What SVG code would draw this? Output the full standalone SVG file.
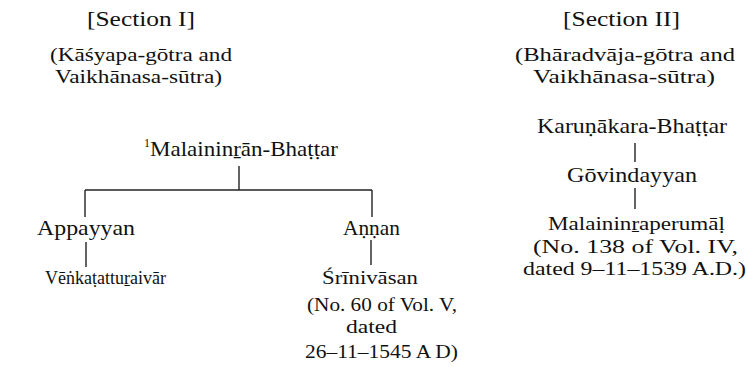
<svg xmlns="http://www.w3.org/2000/svg" width="748" height="367" viewBox="0 0 748 367">
<style>
text{font-family:"Liberation Serif","DejaVu Serif",serif;font-size:21px;fill:#111}
.m{font-size:18px}
.sup{font-size:12px}
.c line{stroke:#222;stroke-width:1.4;fill:none}
</style>
<rect width="748" height="367" fill="#fff"/>
<g id="section1">
<text x="87" y="26" textLength="108" lengthAdjust="spacingAndGlyphs">[Section  I]</text>
<text x="50" y="61" class="m" textLength="182" lengthAdjust="spacingAndGlyphs">(Kāśyapa-gōtra and</text>
<text x="55" y="83" class="m" textLength="167" lengthAdjust="spacingAndGlyphs">Vaikhānasa-sūtra)</text>
</g>
<g id="section2">
<text x="563" y="26" textLength="117" lengthAdjust="spacingAndGlyphs">[Section II]</text>
<text x="515" y="61" class="m" textLength="220" lengthAdjust="spacingAndGlyphs">(Bhāradvāja-gōtra and</text>
<text x="533" y="83" class="m" textLength="182" lengthAdjust="spacingAndGlyphs">Vaikhānasa-sūtra)</text>
</g>
<g id="malaininran">
<text x="144" y="147" class="sup">1</text>
<text x="150" y="156" textLength="188" lengthAdjust="spacingAndGlyphs">Malaininṟān-Bhaṭṭar</text>
</g>
<g id="appayyan">
<text x="37" y="235" textLength="98" lengthAdjust="spacingAndGlyphs">Appayyan</text>
</g>
<g id="venkatatturaivar">
<text x="45" y="284" class="m" textLength="121" lengthAdjust="spacingAndGlyphs">Vēṅkaṭattuṟaivār</text>
</g>
<g id="annan">
<text x="343" y="235" textLength="57" lengthAdjust="spacingAndGlyphs">Aṇṇan</text>
</g>
<g id="srinivasan">
<text x="322" y="284" class="m" textLength="96" lengthAdjust="spacingAndGlyphs">Śrīnivāsan</text>
<text x="307" y="311" class="m" textLength="150" lengthAdjust="spacingAndGlyphs">(No. 60 of Vol. V,</text>
<text x="346" y="333" class="m" textLength="51" lengthAdjust="spacingAndGlyphs">dated</text>
<text x="305" y="358" class="m" textLength="153" lengthAdjust="spacingAndGlyphs">26–11–1545 A  D)</text>
</g>
<g id="karunakara">
<text x="537" y="133" textLength="190" lengthAdjust="spacingAndGlyphs">Karuṇākara-Bhaṭṭar</text>
</g>
<g id="govindayyan">
<text x="567" y="182" textLength="130" lengthAdjust="spacingAndGlyphs">Gōvindayyan</text>
</g>
<g id="malaininraperumal">
<text x="548" y="230" class="m" textLength="177" lengthAdjust="spacingAndGlyphs">Malaininṟaperumāḷ</text>
<text x="533" y="253" class="m" textLength="205" lengthAdjust="spacingAndGlyphs">(No. 138 of Vol. IV,</text>
<text x="523" y="275" class="m" textLength="223" lengthAdjust="spacingAndGlyphs">dated 9–11–1539 A.D.)</text>
</g>
<g id="connectors" class="c">
<line x1="239" y1="166" x2="239" y2="190"/>
<line x1="85" y1="190" x2="372" y2="190"/>
<line x1="85" y1="190" x2="85" y2="217"/>
<line x1="372" y1="190" x2="372" y2="217"/>
<line x1="86" y1="242" x2="86" y2="267"/>
<line x1="371" y1="240" x2="371" y2="265"/>
<line x1="635" y1="143" x2="635" y2="162"/>
<line x1="635" y1="188" x2="635" y2="209"/>
</g>
</svg>
